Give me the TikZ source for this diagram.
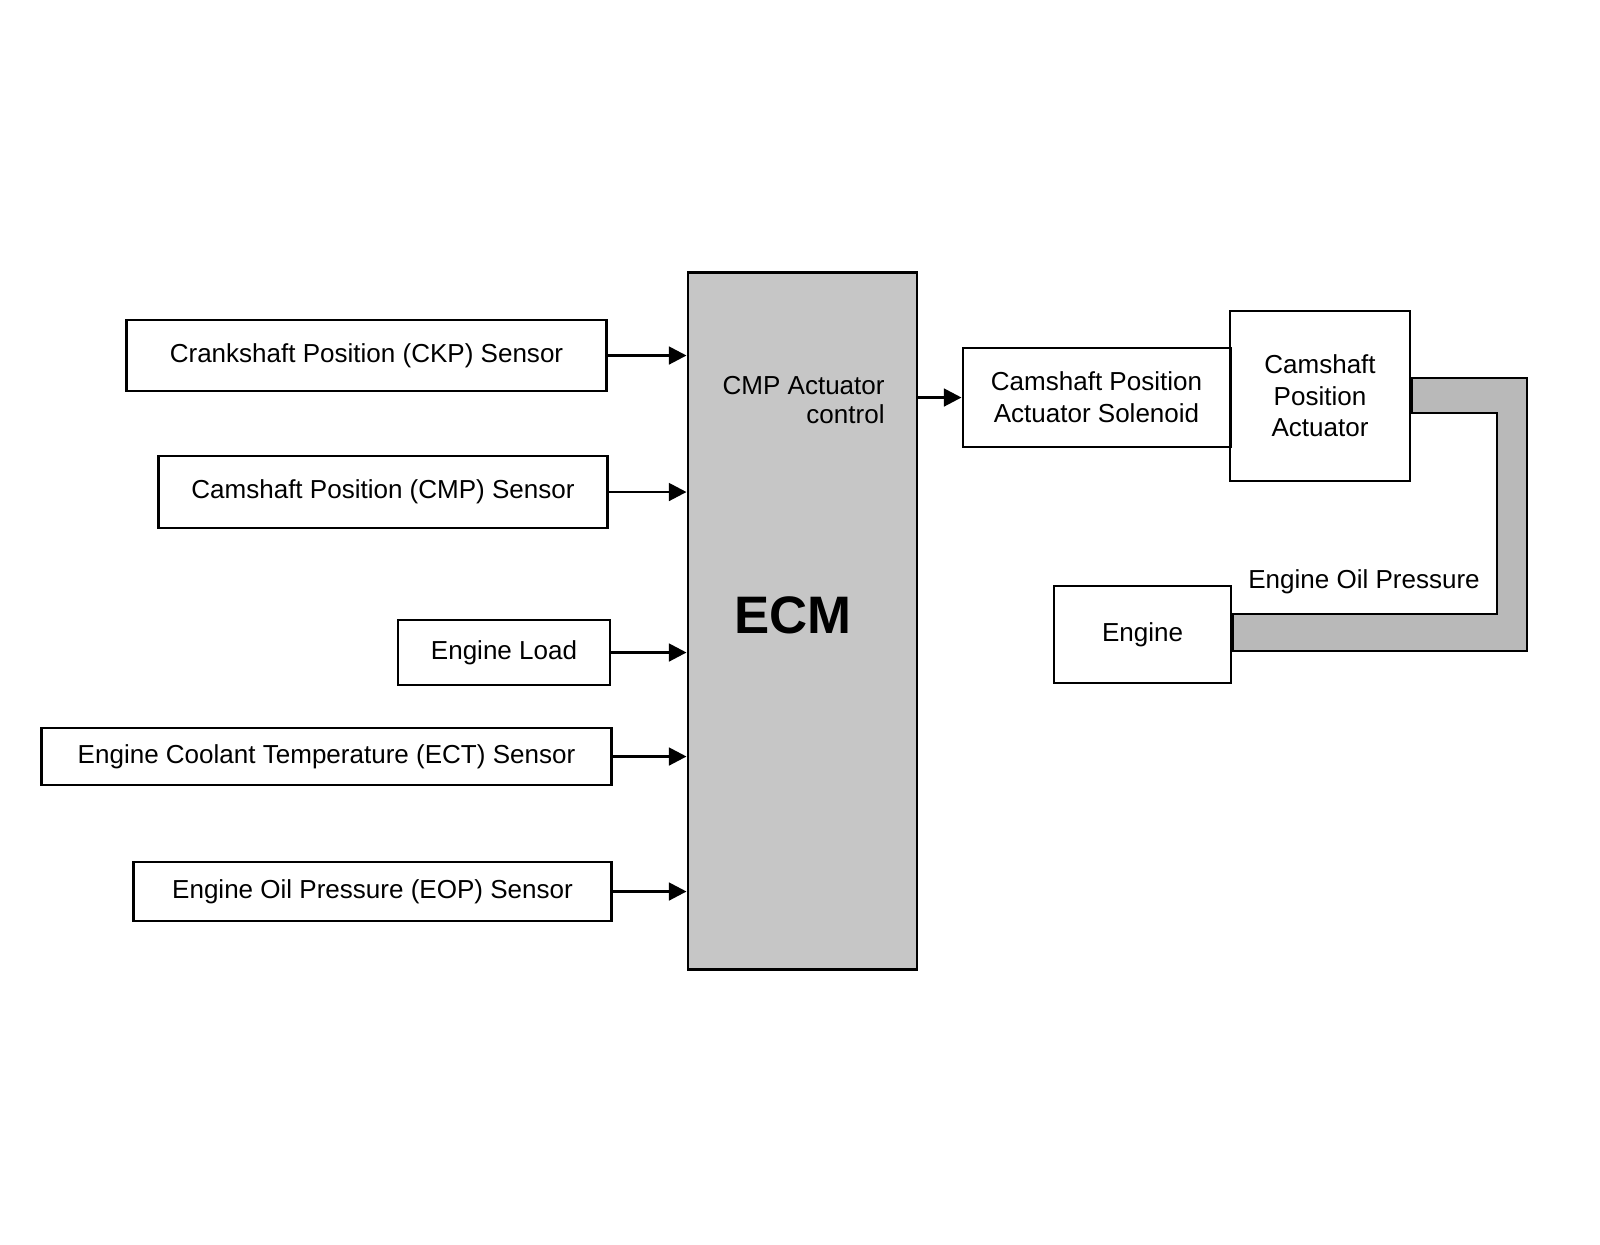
\documentclass[tikz,border=0pt]{standalone}
\usepackage{fontspec}
\setmainfont{Liberation Sans}
\usetikzlibrary{arrows.meta}
\begin{document}
\begin{tikzpicture}%
	[x=0.01cm, y=-0.01cm,
	box/.style={draw, line width=0.8pt, inner sep=0pt, align=center, font=\fontsize{7.4}{9}\selectfont},
	signal/.style={line width=0.8pt, -{Triangle[length=5pt,width=5pt]}},
	oil/.style={fill=gray!55, draw, line width=0.8pt, even odd rule}]
\useasboundingbox (0,0) rectangle (1600,1244);
%
%% ECM
\node[box, fill=gray!45, minimum width=2.29cm, minimum height=6.96cm] (ecm) at (802.5,621) {};
\node[font=\bfseries\fontsize{15}{18}\selectfont] (ecmlabel) at (793,615) {ECM};
\node[font=\fontsize{7.4}{8}\selectfont, align=right, anchor=east] (cmpctl) at (897,400) {CMP Actuator\\control};
%
%% sensors
\node[box, minimum width=4.79cm, minimum height=0.71cm] (ckp) at (366.5,355.5) {Crankshaft Position (CKP) Sensor};
\node[box, minimum width=4.48cm, minimum height=0.72cm] (cmp) at (383,492) {Camshaft Position (CMP) Sensor};
\node[box, minimum width=2.12cm, minimum height=0.65cm] (load) at (504,652.5) {Engine Load};
\node[box, minimum width=5.69cm, minimum height=0.57cm] (ect) at (326.5,756.5) {Engine Coolant Temperature (ECT) Sensor};
\node[box, minimum width=4.77cm, minimum height=0.59cm] (eop) at (372.5,891.5) {Engine Oil Pressure (EOP) Sensor};
%
\foreach \s in {ckp,cmp,load,ect,eop}
	\draw[signal] (\s.east) -- (\s.east -| ecm.west);
%
%% actuator side
\node[box, minimum width=2.67cm, minimum height=0.99cm] (sol) at (1096.5,397.5) {Camshaft Position\\Actuator Solenoid};
\node[box, minimum width=1.80cm, minimum height=1.70cm] (act) at (1320,396) {Camshaft\\Position\\Actuator};
\node[box, minimum width=1.77cm, minimum height=0.97cm] (engine) at (1142.5,634.5) {Engine};
\draw[signal] (ecm.east |- sol.west) -- (sol.west);
%
%% oil pressure line
\path[oil] (act.east |- 0,378) -- (1527,378) -- (1527,651) -- (engine.east |- 0,651) -- (engine.east |- 0,614) -- (1497,614) -- (1497,413) -- (act.east |- 0,413) -- cycle;
\node[font=\fontsize{7.4}{9}\selectfont] (oillabel) at (1364,582) {Engine Oil Pressure};
\end{tikzpicture}
\end{document}
